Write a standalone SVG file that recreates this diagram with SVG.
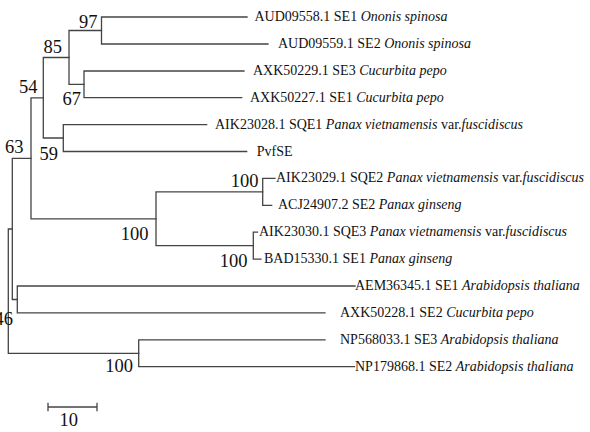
<svg xmlns="http://www.w3.org/2000/svg" width="590" height="432" viewBox="0 0 590 432">
<style>
.br{fill:none;stroke:#444;stroke-width:1.3;stroke-linecap:square}
.lf{font-family:"Liberation Serif",serif;font-size:14px;fill:#111}
.bs{font-family:"Liberation Serif",serif;font-size:18.5px;fill:#111;text-anchor:end}
.i{font-style:italic}
</style>
<rect width="590" height="432" fill="#fff"/>
<g id="connectors" class="br">
<path d="M101.5,17V44M101.5,17H247M101.5,44H268"/>
<path d="M84,71V97.7M84,71H244M84,97.7H241.7"/>
<path d="M69,30.5V84.3M69,30.5H101.5M69,84.3H84"/>
<path d="M63.3,124.6V151.5M63.3,124.6H206.7M63.3,151.5H246.7"/>
<path d="M43.3,57.5V138M43.3,57.5H69M43.3,138H63.3"/>
<path d="M262.7,178.4V205.3M262.7,178.4H275M262.7,205.3H271.7"/>
<path d="M253.3,232.2V259.1M253.3,232.2H257.5M253.3,259.1H261"/>
<path d="M156,191.9V245.7M156,191.9H262.7M156,245.7H253.3"/>
<path d="M31,97.8V218.8M31,97.8H43.3M31,218.8H156"/>
<path d="M17.3,286V312.9M17.3,286H355M17.3,312.9H325"/>
<path d="M12.3,158.3V299.5M12.3,158.3H31M12.3,299.5H17.3"/>
<path d="M138.7,339.8V366.7M138.7,339.8H325M138.7,366.7H354.5"/>
<path d="M8.3,229V353.3M8.3,229H12.3M8.3,353.3H138.7"/>
</g>
<g id="leaf1"><text class="lf" x="254.5" y="21">AUD09558.1 SE1 <tspan class="i">Ononis spinosa</tspan></text></g>
<g id="leaf2"><text class="lf" x="278" y="48">AUD09559.1 SE2 <tspan class="i">Ononis spinosa</tspan></text></g>
<g id="leaf3"><text class="lf" x="253" y="75">AXK50229.1 SE3 <tspan class="i">Cucurbita pepo</tspan></text></g>
<g id="leaf4"><text class="lf" x="250" y="101.7">AXK50227.1 SE1 <tspan class="i">Cucurbita pepo</tspan></text></g>
<g id="leaf5"><text class="lf" x="215" y="128.6">AIK23028.1 SQE1 <tspan class="i">Panax vietnamensis</tspan> var.<tspan class="i">fuscidiscus</tspan></text></g>
<g id="leaf6"><text class="lf" x="256.7" y="155.5">PvfSE</text></g>
<g id="leaf7"><text class="lf" x="276" y="182.4">AIK23029.1 SQE2 <tspan class="i">Panax vietnamensis</tspan> var.<tspan class="i">fuscidiscus</tspan></text></g>
<g id="leaf8"><text class="lf" x="278" y="209.3">ACJ24907.2 SE2 <tspan class="i">Panax ginseng</tspan></text></g>
<g id="leaf9"><text class="lf" x="259" y="236.2">AIK23030.1 SQE3 <tspan class="i">Panax vietnamensis</tspan> var.<tspan class="i">fuscidiscus</tspan></text></g>
<g id="leaf10"><text class="lf" x="264" y="263">BAD15330.1 SE1 <tspan class="i">Panax ginseng</tspan></text></g>
<g id="leaf11"><text class="lf" x="355" y="290">AEM36345.1 SE1 <tspan class="i">Arabidopsis thaliana</tspan></text></g>
<g id="leaf12"><text class="lf" x="340" y="317">AXK50228.1 SE2 <tspan class="i">Cucurbita pepo</tspan></text></g>
<g id="leaf13"><text class="lf" x="340" y="344">NP568033.1 SE3 <tspan class="i">Arabidopsis thaliana</tspan></text></g>
<g id="leaf14"><text class="lf" x="355" y="371">NP179868.1 SE2 <tspan class="i">Arabidopsis thaliana</tspan></text></g>
<g id="bootstrap">
<text class="bs" x="97.5" y="28">97</text>
<text class="bs" x="62" y="53">85</text>
<text class="bs" x="37.5" y="93">54</text>
<text class="bs" x="81" y="105">67</text>
<text class="bs" x="23.5" y="153">63</text>
<text class="bs" x="58" y="160">59</text>
<text class="bs" x="258.5" y="186.5">100</text>
<text class="bs" x="148.5" y="240">100</text>
<text class="bs" x="247.5" y="266.5">100</text>
<text class="bs" x="133" y="372">100</text>
<text class="bs" x="13" y="325">46</text>
</g>
<g id="scalebar">
<path class="br" d="M48,407H97M48,403.5V410.5M97,403.5V410.5"/>
<text class="bs" x="78" y="426">10</text>
</g>
</svg>
